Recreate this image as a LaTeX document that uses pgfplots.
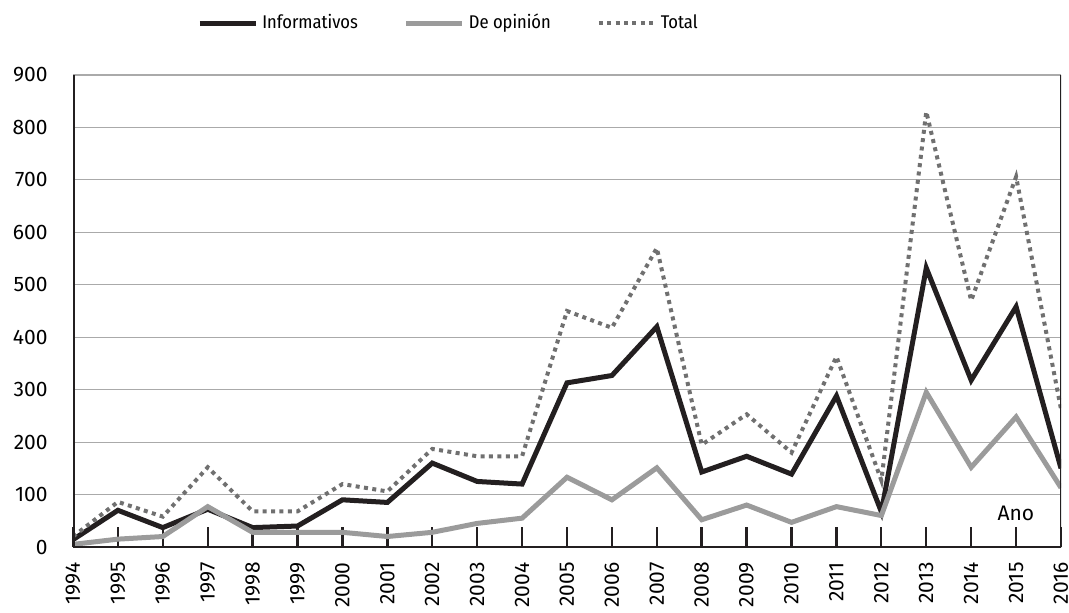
\documentclass[border=0pt]{standalone}
\usepackage{pgfplots}
\pgfplotsset{compat=1.18}
\usepackage{fontspec}
\setmainfont{Fira Sans Condensed}
\newfontfamily\digitfont{Fira Sans}
\definecolor{cblack}{HTML}{231F20}
\definecolor{cgray}{HTML}{9B9B9B}
\definecolor{cdot}{HTML}{707070}
\definecolor{cgrid}{HTML}{AAAAAA}
\begin{document}
\begin{tikzpicture}
\useasboundingbox (-36.5pt,-32.5pt) rectangle (498pt,273.5pt);
\begin{axis}[
  scale only axis,
  width=494pt, height=236pt,
  xmin=1994, xmax=2016, ymin=0, ymax=900,
  xtick={1994,...,2016},
  ytick={0,100,...,900},
  /pgf/number format/assume math mode=true,
  /pgf/number format/1000 sep={},
  axis line style={draw=none},
  ymajorgrids, grid style={cgrid, line width=0.6pt},
  ytick style={draw=none},
  xtick pos=bottom,
  tick align=inside,
  major tick length=10pt,
  xtick style={cblack, line width=1.2pt},
  xticklabel style={rotate=90, anchor=east, font=\digitfont\fontsize{10.5}{11}\selectfont, inner sep=1pt},
  xticklabel shift=6.5pt,
  yticklabel style={font=\digitfont\fontsize{10.5}{11}\selectfont, inner sep=1pt, xshift=-11.5pt},
  xlabel={Ano},
  xlabel style={at={(rel axis cs:0.98,0.072)}, anchor=east, font=\digitfont\fontsize{10.5}{11}\selectfont},
  legend columns=3,
  legend style={draw=none, inner sep=0pt, at={(rel axis cs:0.1255,1.11)}, anchor=west, font=\fontsize{9.2}{10}\selectfont,
    /tikz/every even column/.append style={column sep=21pt}},
  legend image code/.code={\draw[#1] (0pt,0pt) -- (28pt,0pt);},
]
\addplot[cblack, line width=2.5pt] coordinates {
(1994,14) (1995,70) (1996,37) (1997,72) (1998,37) (1999,40) (2000,90) (2001,85) (2002,160) (2003,125) (2004,120) (2005,313) (2006,327) (2007,420) (2008,143) (2009,173) (2010,139) (2011,288) (2012,67) (2013,532) (2014,318) (2015,458) (2016,150)};
\addlegendentry{Informativos}
\addplot[cgray, line width=2.5pt] coordinates {
(1994,5) (1995,15) (1996,20) (1997,77) (1998,28) (1999,28) (2000,28) (2001,20) (2002,28) (2003,45) (2004,55) (2005,133) (2006,90) (2007,151) (2008,52) (2009,80) (2010,47) (2011,77) (2012,60) (2013,295) (2014,152) (2015,248) (2016,113)};
\addlegendentry{De opinión}
\addplot[cdot, line width=2pt, dash pattern=on 2pt off 2.2pt] coordinates {
(1994,20) (1995,86) (1996,58) (1997,152) (1998,68) (1999,68) (2000,120) (2001,106) (2002,187) (2003,173) (2004,173) (2005,450) (2006,418) (2007,570) (2008,195) (2009,253) (2010,180) (2011,363) (2012,127) (2013,830) (2014,470) (2015,706) (2016,263)};
\addlegendentry{Total}
\draw[cblack, line width=1.5pt] (rel axis cs:0,1) -- (rel axis cs:0,0) -- (rel axis cs:1,0) -- (rel axis cs:1,1);
\end{axis}
\end{tikzpicture}
\end{document}
